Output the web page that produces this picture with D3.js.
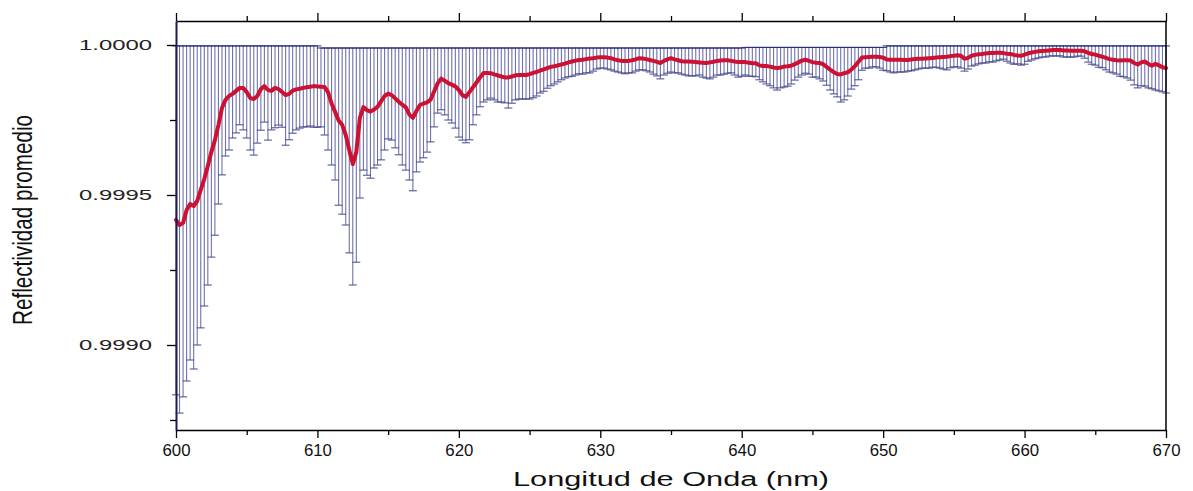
<!DOCTYPE html>
<html>
<head>
<meta charset="utf-8">
<script src="https://cdn.jsdelivr.net/npm/d3@7"></script>
<style>
  html, body { margin: 0; padding: 0; background: #fff; }
  svg { display: block; font-family: "Liberation Sans", Arial, sans-serif; }
</style>
</head>
<body>
<div id="chart"></div>
<script>
// Wavelength (nm), mean reflectivity and its error bars (minus / plus)
const wavelength = [
  600, 600.25, 600.5, 600.75, 601, 601.25, 601.5, 601.75, 602, 602.25, 602.5, 602.75, 603, 603.25, 603.5, 603.75, 604, 604.25, 604.5, 604.75,
  605, 605.25, 605.5, 605.75, 606, 606.25, 606.5, 606.75, 607, 607.25, 607.5, 607.75, 608, 608.25, 608.5, 608.75, 609, 609.25, 609.5, 609.75,
  610, 610.25, 610.5, 610.75, 611, 611.25, 611.5, 611.75, 612, 612.25, 612.5, 612.75, 613, 613.25, 613.5, 613.75, 614, 614.25, 614.5, 614.75,
  615, 615.25, 615.5, 615.75, 616, 616.25, 616.5, 616.75, 617, 617.25, 617.5, 617.75, 618, 618.25, 618.5, 618.75, 619, 619.25, 619.5, 619.75,
  620, 620.25, 620.5, 620.75, 621, 621.25, 621.5, 621.75, 622, 622.25, 622.5, 622.75, 623, 623.25, 623.5, 623.75, 624, 624.25, 624.5, 624.75,
  625, 625.25, 625.5, 625.75, 626, 626.25, 626.5, 626.75, 627, 627.25, 627.5, 627.75, 628, 628.25, 628.5, 628.75, 629, 629.25, 629.5, 629.75,
  630, 630.25, 630.5, 630.75, 631, 631.25, 631.5, 631.75, 632, 632.25, 632.5, 632.75, 633, 633.25, 633.5, 633.75, 634, 634.25, 634.5, 634.75,
  635, 635.25, 635.5, 635.75, 636, 636.25, 636.5, 636.75, 637, 637.25, 637.5, 637.75, 638, 638.25, 638.5, 638.75, 639, 639.25, 639.5, 639.75,
  640, 640.25, 640.5, 640.75, 641, 641.25, 641.5, 641.75, 642, 642.25, 642.5, 642.75, 643, 643.25, 643.5, 643.75, 644, 644.25, 644.5, 644.75,
  645, 645.25, 645.5, 645.75, 646, 646.25, 646.5, 646.75, 647, 647.25, 647.5, 647.75, 648, 648.25, 648.5, 648.75, 649, 649.25, 649.5, 649.75,
  650, 650.25, 650.5, 650.75, 651, 651.25, 651.5, 651.75, 652, 652.25, 652.5, 652.75, 653, 653.25, 653.5, 653.75, 654, 654.25, 654.5, 654.75,
  655, 655.25, 655.5, 655.75, 656, 656.25, 656.5, 656.75, 657, 657.25, 657.5, 657.75, 658, 658.25, 658.5, 658.75, 659, 659.25, 659.5, 659.75,
  660, 660.25, 660.5, 660.75, 661, 661.25, 661.5, 661.75, 662, 662.25, 662.5, 662.75, 663, 663.25, 663.5, 663.75, 664, 664.25, 664.5, 664.75,
  665, 665.25, 665.5, 665.75, 666, 666.25, 666.5, 666.75, 667, 667.25, 667.5, 667.75, 668, 668.25, 668.5, 668.75, 669, 669.25, 669.5, 669.75,
  670
];

const reflectivity = [
  0.999417, 0.999400, 0.999407, 0.999450, 0.999470, 0.999463, 0.999480, 0.999517, 0.999553, 0.999597,
  0.999643, 0.999683, 0.999733, 0.999790, 0.999817, 0.999830, 0.999837, 0.999847, 0.999857, 0.999857,
  0.999843, 0.999823, 0.999820, 0.999830, 0.999853, 0.999863, 0.999850, 0.999847, 0.999857, 0.999853,
  0.999843, 0.999833, 0.999837, 0.999848, 0.999852, 0.999854, 0.999857, 0.999859, 0.999861, 0.999863,
  0.999862, 0.999861, 0.999860, 0.999843, 0.999805, 0.999777, 0.999748, 0.999734, 0.999700, 0.999650,
  0.999603, 0.999643, 0.999757, 0.999793, 0.999783, 0.999778, 0.999785, 0.999794, 0.999812, 0.999830,
  0.999838, 0.999833, 0.999822, 0.999811, 0.999801, 0.999792, 0.999768, 0.999757, 0.999780, 0.999800,
  0.999805, 0.999809, 0.999818, 0.999845, 0.999872, 0.999888, 0.999881, 0.999873, 0.999868, 0.999862,
  0.999850, 0.999833, 0.999827, 0.999843, 0.999859, 0.999875, 0.999892, 0.999907, 0.999907, 0.999906,
  0.999902, 0.999899, 0.999895, 0.999892, 0.999892, 0.999895, 0.999899, 0.999900, 0.999900, 0.999900,
  0.999903, 0.999907, 0.999910, 0.999915, 0.999919, 0.999923, 0.999927, 0.999929, 0.999932, 0.999935,
  0.999938, 0.999942, 0.999945, 0.999948, 0.999950, 0.999951, 0.999953, 0.999955, 0.999956, 0.999958,
  0.999959, 0.999959, 0.999958, 0.999956, 0.999952, 0.999949, 0.999947, 0.999947, 0.999947, 0.999949,
  0.999952, 0.999956, 0.999955, 0.999953, 0.999950, 0.999947, 0.999944, 0.999940, 0.999947, 0.999952,
  0.999956, 0.999952, 0.999949, 0.999946, 0.999945, 0.999945, 0.999944, 0.999943, 0.999942, 0.999941,
  0.999940, 0.999942, 0.999944, 0.999947, 0.999948, 0.999949, 0.999949, 0.999947, 0.999945, 0.999943,
  0.999943, 0.999943, 0.999941, 0.999939, 0.999939, 0.999932, 0.999930, 0.999930, 0.999928, 0.999925,
  0.999923, 0.999925, 0.999928, 0.999929, 0.999931, 0.999936, 0.999942, 0.999948, 0.999951, 0.999947,
  0.999943, 0.999941, 0.999940, 0.999936, 0.999927, 0.999918, 0.999910, 0.999903, 0.999902, 0.999906,
  0.999909, 0.999918, 0.999929, 0.999944, 0.999958, 0.999959, 0.999960, 0.999961, 0.999961, 0.999960,
  0.999958, 0.999952, 0.999951, 0.999951, 0.999951, 0.999951, 0.999950, 0.999950, 0.999952, 0.999953,
  0.999954, 0.999954, 0.999955, 0.999956, 0.999957, 0.999958, 0.999959, 0.999960, 0.999961, 0.999963,
  0.999964, 0.999966, 0.999964, 0.999954, 0.999957, 0.999964, 0.999967, 0.999969, 0.999970, 0.999972,
  0.999973, 0.999973, 0.999974, 0.999974, 0.999973, 0.999971, 0.999970, 0.999967, 0.999965, 0.999964,
  0.999968, 0.999972, 0.999975, 0.999977, 0.999979, 0.999980, 0.999981, 0.999982, 0.999983, 0.999983,
  0.999983, 0.999982, 0.999982, 0.999981, 0.999981, 0.999981, 0.999981, 0.999979, 0.999974, 0.999970,
  0.999968, 0.999964, 0.999961, 0.999957, 0.999953, 0.999951, 0.999949, 0.999948, 0.999949, 0.999949,
  0.999948, 0.999940, 0.999935, 0.999942, 0.999945, 0.999937, 0.999931, 0.999937, 0.999932, 0.999926,
  0.999923
];

// lower half of each error bar
const errMinus = [
  0.000583, 0.000627, 0.000580, 0.000570, 0.000520, 0.000543, 0.000480, 0.000460, 0.000423, 0.000397,
  0.000350, 0.000317, 0.000263, 0.000223, 0.000187, 0.000180, 0.000147, 0.000140, 0.000123, 0.000140,
  0.000153, 0.000173, 0.000187, 0.000157, 0.000137, 0.000120, 0.000167, 0.000130, 0.000133, 0.000120,
  0.000117, 0.000167, 0.000153, 0.000142, 0.000135, 0.000131, 0.000130, 0.000132, 0.000131, 0.000137,
  0.000136, 0.000134, 0.000160, 0.000193, 0.000205, 0.000227, 0.000282, 0.000298, 0.000300, 0.000343,
  0.000403, 0.000367, 0.000267, 0.000210, 0.000217, 0.000222, 0.000195, 0.000194, 0.000195, 0.000180,
  0.000151, 0.000150, 0.000165, 0.000177, 0.000201, 0.000209, 0.000218, 0.000243, 0.000203, 0.000190,
  0.000181, 0.000166, 0.000141, 0.000118, 0.000099, 0.000104, 0.000114, 0.000123, 0.000128, 0.000139,
  0.000157, 0.000150, 0.000153, 0.000159, 0.000125, 0.000108, 0.000098, 0.000097, 0.000090, 0.000083,
  0.000085, 0.000089, 0.000085, 0.000085, 0.000102, 0.000089, 0.000082, 0.000080, 0.000080, 0.000080,
  0.000083, 0.000083, 0.000080, 0.000075, 0.000073, 0.000067, 0.000063, 0.000059, 0.000055, 0.000051,
  0.000048, 0.000048, 0.000049, 0.000048, 0.000046, 0.000048, 0.000046, 0.000048, 0.000043, 0.000038,
  0.000036, 0.000036, 0.000038, 0.000039, 0.000039, 0.000039, 0.000040, 0.000043, 0.000040, 0.000042,
  0.000039, 0.000039, 0.000038, 0.000039, 0.000040, 0.000044, 0.000047, 0.000053, 0.000047, 0.000046,
  0.000046, 0.000045, 0.000042, 0.000043, 0.000045, 0.000048, 0.000047, 0.000046, 0.000042, 0.000048,
  0.000050, 0.000055, 0.000051, 0.000047, 0.000048, 0.000046, 0.000043, 0.000040, 0.000045, 0.000050,
  0.000047, 0.000043, 0.000045, 0.000043, 0.000045, 0.000048, 0.000053, 0.000060, 0.000064, 0.000068,
  0.000073, 0.000068, 0.000068, 0.000066, 0.000061, 0.000053, 0.000049, 0.000048, 0.000045, 0.000044,
  0.000050, 0.000048, 0.000053, 0.000056, 0.000061, 0.000068, 0.000073, 0.000076, 0.000092, 0.000089,
  0.000079, 0.000065, 0.000065, 0.000060, 0.000042, 0.000036, 0.000037, 0.000034, 0.000034, 0.000037,
  0.000042, 0.000038, 0.000041, 0.000044, 0.000041, 0.000041, 0.000040, 0.000037, 0.000038, 0.000036,
  0.000034, 0.000031, 0.000032, 0.000033, 0.000031, 0.000032, 0.000036, 0.000040, 0.000044, 0.000039,
  0.000037, 0.000039, 0.000041, 0.000041, 0.000037, 0.000034, 0.000034, 0.000032, 0.000030, 0.000032,
  0.000029, 0.000030, 0.000027, 0.000024, 0.000020, 0.000025, 0.000030, 0.000031, 0.000028, 0.000031,
  0.000032, 0.000026, 0.000025, 0.000023, 0.000022, 0.000020, 0.000021, 0.000019, 0.000019, 0.000020,
  0.000019, 0.000022, 0.000022, 0.000021, 0.000021, 0.000018, 0.000018, 0.000023, 0.000031, 0.000034,
  0.000035, 0.000038, 0.000037, 0.000040, 0.000043, 0.000044, 0.000046, 0.000052, 0.000055, 0.000059,
  0.000065, 0.000073, 0.000078, 0.000078, 0.000082, 0.000080, 0.000077, 0.000087, 0.000085, 0.000082,
  0.000083
];

// upper half of each error bar
const errPlus = [
  0.000580, 0.000597, 0.000590, 0.000547, 0.000527, 0.000534, 0.000517, 0.000480, 0.000444, 0.000400,
  0.000354, 0.000314, 0.000264, 0.000207, 0.000180, 0.000167, 0.000160, 0.000150, 0.000140, 0.000140,
  0.000154, 0.000174, 0.000177, 0.000167, 0.000144, 0.000134, 0.000147, 0.000150, 0.000140, 0.000144,
  0.000154, 0.000164, 0.000160, 0.000149, 0.000145, 0.000143, 0.000140, 0.000138, 0.000136, 0.000134,
  0.000135, 0.000129, 0.000130, 0.000147, 0.000185, 0.000213, 0.000242, 0.000256, 0.000290, 0.000340,
  0.000387, 0.000347, 0.000233, 0.000197, 0.000207, 0.000212, 0.000205, 0.000196, 0.000178, 0.000160,
  0.000152, 0.000157, 0.000168, 0.000179, 0.000189, 0.000198, 0.000222, 0.000233, 0.000210, 0.000190,
  0.000185, 0.000181, 0.000172, 0.000145, 0.000118, 0.000102, 0.000109, 0.000117, 0.000122, 0.000128,
  0.000140, 0.000157, 0.000163, 0.000147, 0.000131, 0.000115, 0.000098, 0.000083, 0.000083, 0.000084,
  0.000088, 0.000091, 0.000095, 0.000098, 0.000098, 0.000095, 0.000091, 0.000090, 0.000090, 0.000090,
  0.000087, 0.000083, 0.000080, 0.000075, 0.000071, 0.000067, 0.000063, 0.000061, 0.000058, 0.000055,
  0.000052, 0.000048, 0.000045, 0.000042, 0.000040, 0.000039, 0.000037, 0.000035, 0.000034, 0.000032,
  0.000031, 0.000031, 0.000032, 0.000034, 0.000038, 0.000041, 0.000043, 0.000043, 0.000043, 0.000041,
  0.000038, 0.000034, 0.000035, 0.000037, 0.000040, 0.000043, 0.000046, 0.000050, 0.000043, 0.000038,
  0.000034, 0.000038, 0.000041, 0.000044, 0.000045, 0.000045, 0.000046, 0.000047, 0.000048, 0.000049,
  0.000050, 0.000048, 0.000046, 0.000043, 0.000042, 0.000041, 0.000041, 0.000043, 0.000045, 0.000047,
  0.000047, 0.000049, 0.000051, 0.000053, 0.000053, 0.000060, 0.000062, 0.000062, 0.000064, 0.000067,
  0.000069, 0.000067, 0.000064, 0.000063, 0.000061, 0.000056, 0.000050, 0.000044, 0.000041, 0.000045,
  0.000049, 0.000051, 0.000052, 0.000056, 0.000065, 0.000074, 0.000082, 0.000089, 0.000090, 0.000086,
  0.000083, 0.000074, 0.000063, 0.000048, 0.000034, 0.000033, 0.000032, 0.000031, 0.000031, 0.000032,
  0.000034, 0.000045, 0.000046, 0.000046, 0.000046, 0.000046, 0.000047, 0.000047, 0.000045, 0.000044,
  0.000043, 0.000043, 0.000042, 0.000041, 0.000040, 0.000039, 0.000038, 0.000037, 0.000036, 0.000034,
  0.000033, 0.000031, 0.000033, 0.000043, 0.000040, 0.000033, 0.000030, 0.000028, 0.000027, 0.000025,
  0.000024, 0.000024, 0.000023, 0.000023, 0.000024, 0.000026, 0.000027, 0.000030, 0.000032, 0.000033,
  0.000029, 0.000025, 0.000022, 0.000020, 0.000018, 0.000017, 0.000016, 0.000015, 0.000014, 0.000014,
  0.000014, 0.000015, 0.000015, 0.000016, 0.000016, 0.000016, 0.000016, 0.000018, 0.000023, 0.000027,
  0.000029, 0.000033, 0.000036, 0.000040, 0.000044, 0.000046, 0.000048, 0.000049, 0.000048, 0.000048,
  0.000049, 0.000057, 0.000062, 0.000055, 0.000052, 0.000060, 0.000066, 0.000060, 0.000065, 0.000071,
  0.000074
];

const xTicks = [600, 610, 620, 630, 640, 650, 660, 670];
const xMinorTicks = [605, 615, 625, 635, 645, 655, 665];
const yTicks = [1.0, 0.9995, 0.999];
const yTickLabels = ['1.0000', '0.9995', '0.9990'];
const yMinorTicks = [0.99975, 0.99925, 0.99875];

function drawChart() {
  const width = 1193;
  const height = 491;
  const left = 176, right = 1166, top = 21, bottom = 430;

  const svg = d3
    .select('#chart')
    .append('svg')
    .attr('width', width)
    .attr('height', height);

  const x = d3.scaleLinear().domain([600, 670]).range([left, right]);
  const y = d3.scaleLinear().domain([1 - 385 / 300000, 1 + 24 / 300000]).range([bottom, top]);

  const points = wavelength.map((w, i) => ({
    w,
    m: reflectivity[i],
    lo: reflectivity[i] - errMinus[i],
    hi: reflectivity[i] + errPlus[i]
  }));

  // error bars
  const bars = svg.append('g');
  bars
    .selectAll('line.stem')
    .data(points)
    .enter()
    .append('line')
    .attr('x1', (d) => x(d.w))
    .attr('x2', (d) => x(d.w))
    .attr('y1', (d) => y(d.lo))
    .attr('y2', (d) => y(d.hi))
    .attr('stroke', '#6f72ad')
    .attr('stroke-width', 1.1);

  const capHalf = 4;
  ['lo', 'hi'].forEach((k) => {
    bars
      .selectAll('line.cap-' + k)
      .data(points)
      .enter()
      .append('line')
      .attr('x1', (d) => x(d.w) - capHalf)
      .attr('x2', (d) => x(d.w) + capHalf)
      .attr('y1', (d) => y(d[k]))
      .attr('y2', (d) => y(d[k]))
      .attr('stroke', k === 'hi' ? '#2c2f78' : '#45488a')
      .attr('stroke-width', 1);
  });

  // mean line
  const line = d3
    .line()
    .x((d) => x(d.w))
    .y((d) => y(d.m));

  svg
    .append('path')
    .datum(points)
    .attr('d', line)
    .attr('fill', 'none')
    .attr('stroke', '#cc1133')
    .attr('stroke-width', 4)
    .attr('stroke-linejoin', 'round')
    .attr('stroke-linecap', 'round');

  // axes
  const styleAxis = (g) => {
    g.select('.domain').attr('stroke', '#000').attr('stroke-width', 1.5);
    g.selectAll('.tick line').attr('stroke', '#000').attr('stroke-width', 1.3);
  };

  const xAxis = svg
    .append('g')
    .attr('transform', `translate(0,${bottom})`)
    .call(d3.axisBottom(x).tickValues(xTicks).tickSize(8).tickSizeOuter(0).tickPadding(7).tickFormat(d3.format('d')))
    .call(styleAxis);
  xAxis
    .selectAll('text')
    .attr('font-size', 16)
    .attr('fill', '#111')
    .attr('font-family', '"Liberation Sans", Arial, sans-serif')
    .attr('textLength', 28)
    .attr('lengthAdjust', 'spacingAndGlyphs');

  svg
    .append('g')
    .attr('transform', `translate(0,${bottom})`)
    .call(d3.axisBottom(x).tickValues(xMinorTicks).tickSize(5).tickFormat(''))
    .call(styleAxis)
    .call((g) => g.select('.domain').remove());

  svg
    .append('g')
    .attr('transform', `translate(0,${top})`)
    .call(d3.axisTop(x).tickValues(xTicks).tickSize(8).tickSizeOuter(0).tickFormat(''))
    .call(styleAxis);

  svg
    .append('g')
    .attr('transform', `translate(0,${top})`)
    .call(d3.axisTop(x).tickValues(xMinorTicks).tickSize(5).tickFormat(''))
    .call(styleAxis)
    .call((g) => g.select('.domain').remove());

  const yAxis = svg
    .append('g')
    .attr('transform', `translate(${left},0)`)
    .call(
      d3
        .axisLeft(y)
        .tickValues(yTicks)
        .tickSize(9)
        .tickSizeOuter(0)
        .tickPadding(15)
        .tickFormat((d, i) => yTickLabels[i])
    )
    .call(styleAxis);
  yAxis.select('.domain').attr('stroke', '#1b1b5a').attr('stroke-width', 2);
  yAxis
    .selectAll('text')
    .attr('font-size', 15)
    .attr('fill', '#222')
    .attr('font-family', '"Liberation Sans", Arial, sans-serif')
    .attr('textLength', 73)
    .attr('lengthAdjust', 'spacingAndGlyphs');

  svg
    .append('g')
    .attr('transform', `translate(${left},0)`)
    .call(d3.axisLeft(y).tickValues(yMinorTicks).tickSize(6).tickFormat(''))
    .call(styleAxis)
    .call((g) => g.select('.domain').remove());

  // right frame line
  svg
    .append('line')
    .attr('x1', right)
    .attr('x2', right)
    .attr('y1', top)
    .attr('y2', bottom)
    .attr('stroke', '#000')
    .attr('stroke-width', 1.5);

  // titles
  svg
    .append('text')
    .attr('x', (left + right) / 2)
    .attr('y', 486)
    .attr('text-anchor', 'middle')
    .attr('font-size', 20)
    .attr('fill', '#111')
    .attr('textLength', 316)
    .attr('lengthAdjust', 'spacingAndGlyphs')
    .text('Longitud de Onda (nm)');

  svg
    .append('text')
    .attr('transform', 'translate(22,220) scale(1.45,1) rotate(-90)')
    .attr('text-anchor', 'middle')
    .attr('dy', '0.35em')
    .attr('font-size', 19)
    .attr('fill', '#111')
    .attr('textLength', 210)
    .attr('lengthAdjust', 'spacingAndGlyphs')
    .text('Reflectividad promedio');
}

document.addEventListener('DOMContentLoaded', drawChart);
</script>
</body>
</html>
